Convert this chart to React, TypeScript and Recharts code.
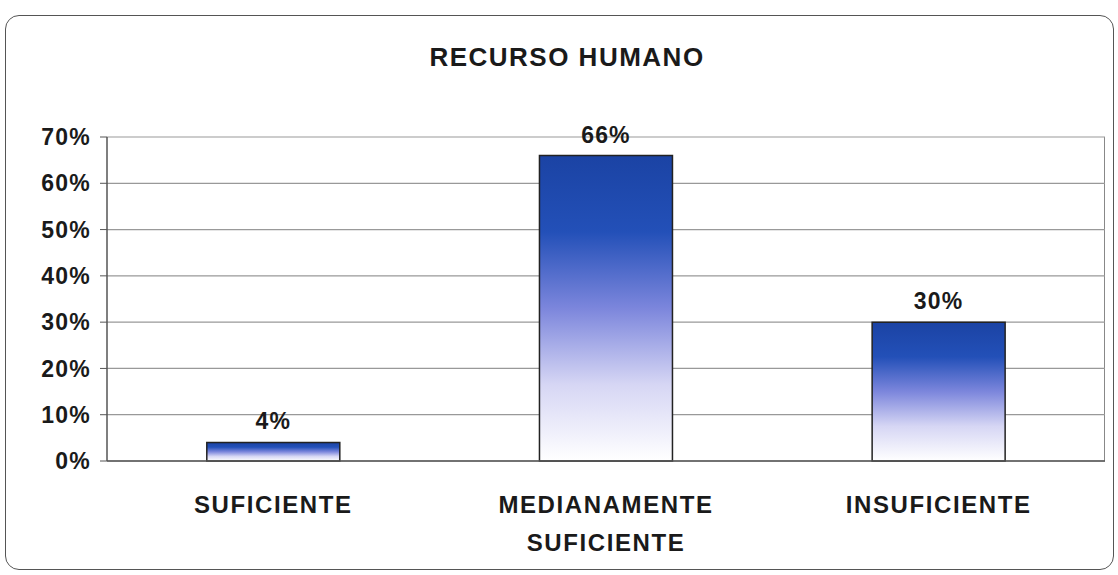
import React from 'react';
import { BarChart, Bar, XAxis, YAxis, CartesianGrid, LabelList } from 'recharts';

const categories = ['SUFICIENTE', 'MEDIANAMENTE SUFICIENTE', 'INSUFICIENTE'];
const values = [4, 66, 30];
const yTicks = [0, 10, 20, 30, 40, 50, 60, 70];

const data = categories.map((c, i) => ({ name: c, value: values[i] }));

const font = '"Liberation Sans", Arial, sans-serif';
const W = 1118;
const H = 575;
const Y_AXIS_W = 62;
const X_AXIS_H = 100;
const margin = { top: 137, right: 13, bottom: 14, left: 45 };

// plot frame (right side border, like the Excel plot area)
const plotLeft = margin.left + Y_AXIS_W;
const plotWidth = W - plotLeft - margin.right;
const plotHeight = H - margin.top - margin.bottom - X_AXIS_H;

const CategoryTick = (props: any) => {
  const { x, y, payload } = props;
  const words = String(payload.value).split(' ');
  return (
    <g transform={`translate(${x},${y})`}>
      <text
        textAnchor="middle"
        fill="#1a1a1a"
        fontFamily={font}
        fontWeight="bold"
        fontSize={24}
        letterSpacing={1.6}
      >
        {words.map((w, i) => (
          <tspan key={i} x={0} dy={i === 0 ? 44 : 38}>
            {w}
          </tspan>
        ))}
      </text>
    </g>
  );
};

export default function App() {
  return (
    <div style={{ position: 'absolute', left: 0, top: 0, width: W, height: H, background: '#fff', overflow: 'hidden' }}>
      <div
        style={{
          position: 'absolute',
          left: 5,
          top: 15,
          width: 1109,
          height: 555,
          border: '1.5px solid #555',
          borderRadius: 14,
          boxSizing: 'border-box',
        }}
      />
      <div
        style={{
          position: 'absolute',
          left: 0,
          top: 42,
          width: 1134,
          textAlign: 'center',
          fontFamily: font,
          fontWeight: 'bold',
          fontSize: 26,
          letterSpacing: 1.5,
          color: '#1a1a1a',
        }}
      >
        RECURSO HUMANO
      </div>
      <div
        style={{
          position: 'absolute',
          left: plotLeft,
          top: margin.top,
          width: plotWidth,
          height: plotHeight,
          borderRight: '1.5px solid #888',
          boxSizing: 'border-box',
        }}
      />
      <div style={{ position: 'absolute', left: 0, top: 0 }}>
        <BarChart width={W} height={H} data={data} margin={margin} barCategoryGap="30%">
          <defs>
            <linearGradient id="barFill" x1="0" y1="0" x2="0" y2="1">
              <stop offset="0%" stopColor="#1b43a4" />
              <stop offset="25%" stopColor="#2350b8" />
              <stop offset="50%" stopColor="#7c86dc" />
              <stop offset="75%" stopColor="#d6d6f4" />
              <stop offset="100%" stopColor="#ffffff" />
            </linearGradient>
          </defs>
          <CartesianGrid vertical={false} stroke="#999" strokeWidth={1.2} />
          <XAxis
            dataKey="name"
            tick={<CategoryTick />}
            tickLine={false}
            axisLine={{ stroke: '#555', strokeWidth: 1.5 }}
            interval={0}
            height={X_AXIS_H}
          />
          <YAxis
            domain={[0, 70]}
            ticks={yTicks}
            interval={0}
            tickFormatter={(v) => `${v}%`}
            width={Y_AXIS_W}
            tickSize={7}
            tickMargin={9}
            tickLine={{ stroke: '#555' }}
            axisLine={{ stroke: '#555', strokeWidth: 1.5 }}
            tick={{ fill: '#1a1a1a', fontFamily: font, fontWeight: 'bold', fontSize: 23, letterSpacing: 1.2 }}
          />
          <Bar dataKey="value" fill="url(#barFill)" stroke="#222" strokeWidth={1.5} isAnimationActive={false}>
            <LabelList
              dataKey="value"
              position="top"
              offset={13}
              formatter={(v: any) => `${v}%`}
              style={{ fill: '#1a1a1a', fontFamily: font, fontWeight: 'bold', fontSize: 23, letterSpacing: 1.2 }}
            />
          </Bar>
        </BarChart>
      </div>
    </div>
  );
}
